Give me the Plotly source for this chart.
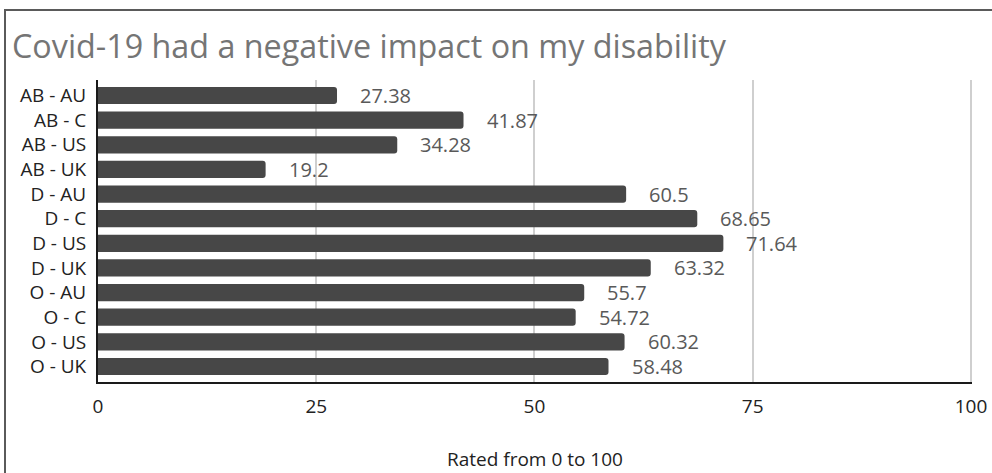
import plotly.graph_objects as go

categories = ["AB - AU", "AB - C", "AB - US", "AB - UK", "D - AU", "D - C",
              "D - US", "D - UK", "O - AU", "O - C", "O - US", "O - UK"]
values = [27.38, 41.87, 34.28, 19.2, 60.5, 68.65, 71.64, 63.32, 55.7, 54.72, 60.32, 58.48]
value_labels = ["27.38", "41.87", "34.28", "19.2", "60.5", "68.65", "71.64", "63.32",
                "55.7", "54.72", "60.32", "58.48"]
x_ticks = [0, 25, 50, 75, 100]

W, H = 992, 473
ML, MR, MT, MB = 98, 20, 80, 91
PW, PH = W - ML - MR, H - MT - MB

fig = go.Figure()
fig.add_trace(go.Bar(
    x=values, y=categories, orientation="h",
    marker=dict(color="#474747", cornerradius=3, line=dict(width=0)),
    hoverinfo="skip",
))

annotations = []
for c, v, t in zip(categories, values, value_labels):
    annotations.append(dict(x=v, y=c, xref="x", yref="y", text=t, showarrow=False,
                            xanchor="left", yanchor="middle", xshift=21,
                            font=dict(family="Open Sans", size=20, color="#595959")))

annotations.append(dict(text="Rated from 0 to 100", xref="paper", yref="paper",
                        x=0.5, y=-(459 - (MT + PH)) / PH, xanchor="center", yanchor="middle",
                        showarrow=False, font=dict(family="Open Sans", size=19, color="#222222")))

fig.update_layout(
    width=W, height=H,
    margin=dict(l=ML, r=MR, t=MT, b=MB, pad=0),
    paper_bgcolor="white", plot_bgcolor="white",
    bargap=0.3,
    showlegend=False,
    title=dict(text="Covid-19 had a negative impact on my disability",
               xref="container", yref="container", x=12 / W, xanchor="left",
               y=1 - 47 / H, yanchor="middle",
               font=dict(family="Open Sans", size=32.3, color="#757575")),
    xaxis=dict(range=[0, 100.12], tickvals=x_ticks, ticktext=[str(t) for t in x_ticks],
               showgrid=True, gridcolor="#cfcfcf", gridwidth=1.5,
               showline=True, linecolor="#1a1a1a", linewidth=2,
               zeroline=False, ticks="", ticklabelstandoff=6, automargin=False,
               tickfont=dict(family="Open Sans", size=19, color="#222222")),
    yaxis=dict(autorange="reversed", showgrid=False,
               showline=True, linecolor="#1a1a1a", linewidth=2,
               ticks="", ticklabelstandoff=6, automargin=False,
               tickfont=dict(family="Open Sans", size=19, color="#222222")),
    annotations=annotations,
    shapes=[dict(type="rect", xref="paper", yref="paper",
                 x0=(5 - ML) / PW, x1=(W + 10 - ML) / PW,
                 y0=-(H + 10 - MT - PH) / PH, y1=(MT + PH - 10) / PH,
                 line=dict(color="#5a5a5a", width=2), layer="below")],
)

fig.write_html("out.html")
